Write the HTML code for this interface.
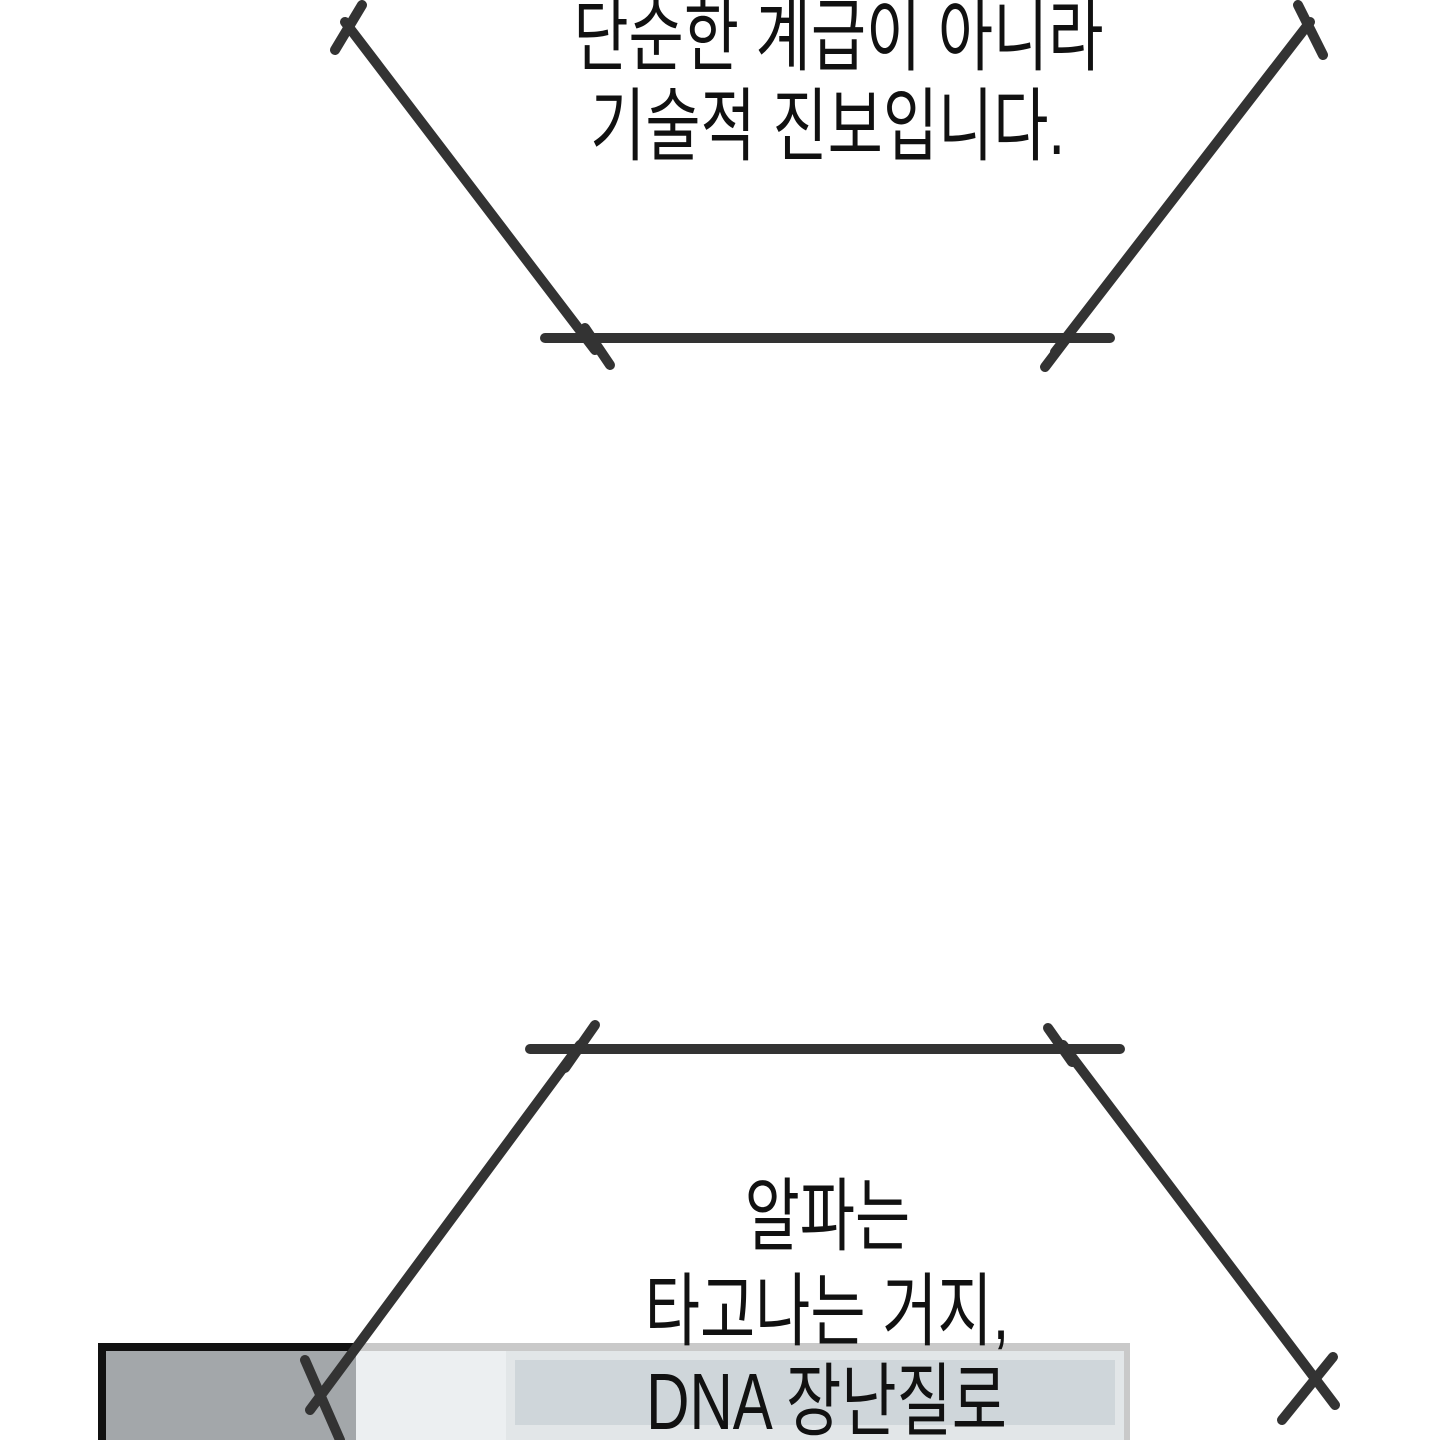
<!DOCTYPE html>
<html><head><meta charset="utf-8"><style>
html,body{margin:0;padding:0;background:#fff;width:1440px;height:1440px;overflow:hidden;position:relative}
.t{position:absolute;left:0;width:1440px;text-align:center;font-family:"Liberation Sans","Noto Sans CJK KR",sans-serif;font-size:80px;line-height:90px;color:#111}
.t span{display:inline-block;transform:scaleX(0.75);transform-origin:center;white-space:nowrap}
</style></head><body>
<div style="position:absolute;left:98px;top:1343px;width:1032px;height:100px;background:#c9c9c9"></div>
<div style="position:absolute;left:98px;top:1343px;width:258px;height:8px;background:#111"></div>
<div style="position:absolute;left:98px;top:1343px;width:8px;height:100px;background:#111"></div>
<div style="position:absolute;left:106px;top:1351px;width:250px;height:90px;background:#a3a7aa"></div>
<div style="position:absolute;left:356px;top:1351px;width:150px;height:90px;background:#eceff1"></div>
<div style="position:absolute;left:506px;top:1351px;width:618px;height:90px;background:#e2e6e8"></div>
<div style="position:absolute;left:515px;top:1360px;width:600px;height:65px;background:#cfd6da"></div>
<svg width="1440" height="1440" style="position:absolute;left:0;top:0">
<g stroke="#333" stroke-width="10" stroke-linecap="round" fill="none">
<line x1="345" y1="22" x2="595" y2="350"/>
<line x1="335" y1="50" x2="362" y2="5"/>
<line x1="545" y1="338" x2="1110" y2="338"/>
<line x1="585" y1="328" x2="610" y2="365"/>
<line x1="1045" y1="367" x2="1070" y2="334"/>
<line x1="1055" y1="352" x2="1310" y2="22"/>
<line x1="1298" y1="5" x2="1323" y2="55"/>
<line x1="530" y1="1049" x2="1120" y2="1049"/>
<line x1="595" y1="1025" x2="565" y2="1068"/>
<line x1="580" y1="1045" x2="310" y2="1410"/>
<line x1="305" y1="1360" x2="340" y2="1440"/>
<line x1="1048" y1="1028" x2="1072" y2="1062"/>
<line x1="1063" y1="1045" x2="1335" y2="1405"/>
<line x1="1282" y1="1420" x2="1333" y2="1357"/>
</g></svg>
<div class="t" style="top:-8px;left:118px"><span>단순한 계급이 아니라</span></div>
<div class="t" style="top:82px;left:108px"><span>기술적 진보입니다.</span></div>
<div class="t" style="top:1172px;left:107px"><span>알파는</span></div>
<div class="t" style="top:1267px;left:107px"><span>타고나는 거지,</span></div>
<div class="t" style="top:1357px;left:107px"><span>DNA 장난질로</span></div>
</body></html>
